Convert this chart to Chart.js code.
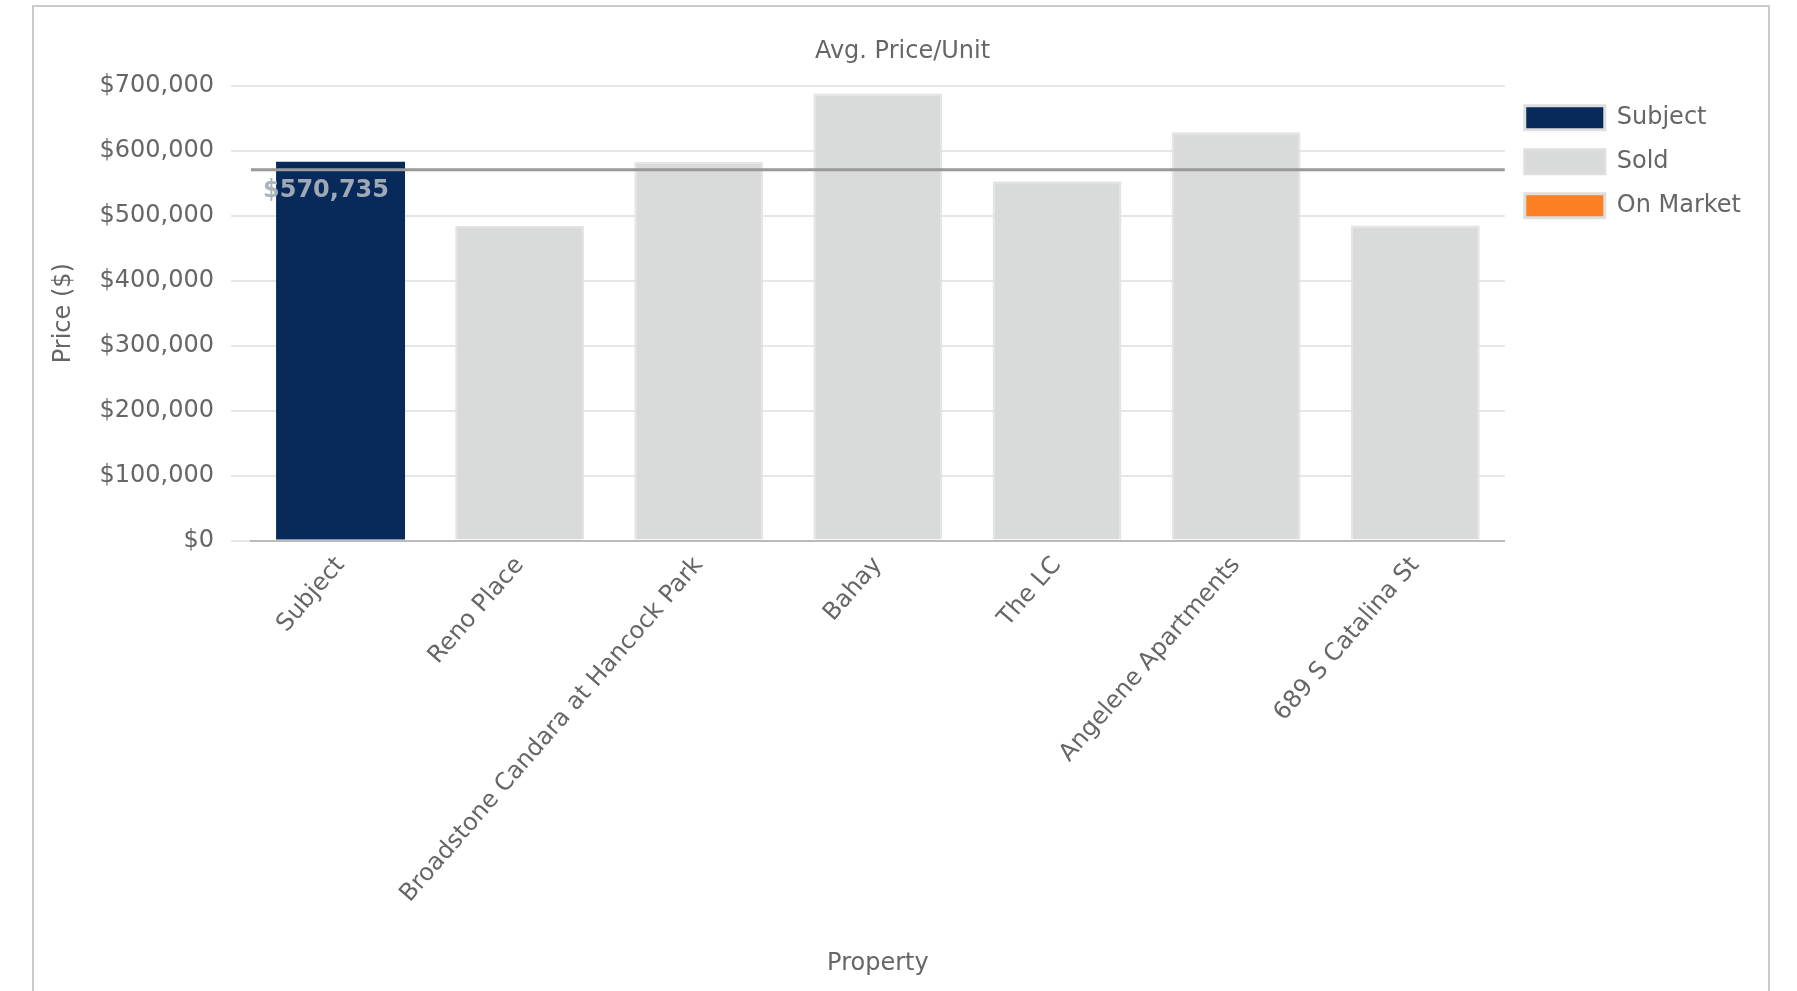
<!DOCTYPE html>
<html>
<head>
<meta charset="utf-8">
<script src="https://cdn.jsdelivr.net/npm/chart.js@4/dist/chart.umd.min.js"></script>
<style>
  html, body { margin: 0; padding: 0; background: #ffffff; overflow: hidden; }
  #frame { position: absolute; left: 32px; top: 5px; width: 1734px; height: 990px;
           border: 2px solid #cccccc; border-bottom: none; background: #fff; }
  canvas { display: block; }
</style>
</head>
<body>
<div id="frame"><canvas id="c" width="1734" height="984"></canvas></div>
<script>
// ---- data ----
const categories = ["Subject", "Reno Place", "Broadstone Candara at Hancock Park", "Bahay", "The LC", "Angelene Apartments", "689 S Catalina St"];
const pricePerUnit = [583000, 484000, 583000, 688000, 553000, 628500, 485000];
const statuses = ["Subject", "Sold", "Sold", "Sold", "Sold", "Sold", "Sold"];
const legendStatuses = ["Subject", "Sold", "On Market"];
const statusColors = ["#072a5a", "#d9dada", "#fd7f23"];
const averageValue = 570735;
const averageLabel = "$570,735";
const yTickValues = [0, 100000, 200000, 300000, 400000, 500000, 600000, 700000];

const FONT = "'DejaVu Sans', sans-serif";
const FS = 24;
const TEXT = "#666666";

const datasets = legendStatuses.map((st, i) => ({
  label: st,
  data: pricePerUnit.map((v, j) => statuses[j] === st ? v : null),
  backgroundColor: statusColors[i],
  borderColor: st === "Subject" ? statusColors[i] : "#e4e4e4",
  borderWidth: st === "Subject" ? 0 : 2,
  grouped: false
}));

const avgLinePlugin = {
  id: "avgLine",
  afterDatasetsDraw(chart) {
    const { ctx, chartArea, scales } = chart;
    const y = scales.y.getPixelForValue(averageValue);
    ctx.save();
    ctx.strokeStyle = "#999999";
    ctx.lineWidth = 3;
    ctx.beginPath();
    ctx.moveTo(chartArea.left, y);
    ctx.lineTo(chartArea.right, y);
    ctx.stroke();
    ctx.font = "bold " + FS + "px " + FONT;
    ctx.fillStyle = "rgba(168,176,186,0.95)";
    ctx.textAlign = "left";
    ctx.textBaseline = "middle";
    ctx.fillText(averageLabel, chartArea.left + 12, y + 21);
    ctx.restore();
  }
};

new Chart(document.getElementById("c"), {
  type: "bar",
  data: { labels: categories, datasets },
  plugins: [avgLinePlugin],
  options: {
    responsive: false,
    animation: false,
    layout: { padding: { left: 20, right: 17, top: 0, bottom: 9 } },
    plugins: {
      tooltip: { enabled: false },
      title: {
        display: true,
        text: "Avg. Price/Unit",
        color: TEXT,
        font: { family: FONT, size: FS, weight: "normal" },
        padding: { top: 30, bottom: 20 }
      },
      legend: {
        position: "right",
        align: "start",
        fullSize: false,
        labels: {
          color: TEXT,
          font: { family: FONT, size: FS },
          boxWidth: 80,
          boxHeight: 24,
          padding: 20,
          generateLabels(chart) {
            return legendStatuses.map((st, i) => ({
              text: st,
              fillStyle: statusColors[i],
              strokeStyle: "#dedede",
              lineWidth: 3,
              fontColor: TEXT,
              hidden: false,
              datasetIndex: i
            }));
          }
        }
      }
    },
    scales: {
      x: {
        grid: { display: false },
        border: { display: true, color: "#bbbbbb", width: 2 },
        ticks: {
          color: TEXT,
          font: { family: FONT, size: FS },
          minRotation: 49,
          maxRotation: 49,
          padding: 3,
          autoSkip: false
        },
        title: {
          display: true,
          text: "Property",
          color: TEXT,
          font: { family: FONT, size: FS },
          padding: { top: 4, bottom: 4 }
        },
        afterFit(scale) { scale.height = 984 - 533.5 - 9; }
      },
      y: {
        min: 0,
        max: 700000,
        grid: { color: "#e6e6e6", lineWidth: 2, tickLength: 20, drawTicks: true },
        border: { display: false },
        afterBuildTicks(scale) { scale.ticks = yTickValues.map(v => ({ value: v })); },
        ticks: {
          color: TEXT,
          font: { family: FONT, size: FS },
          padding: 17,
          callback: v => "$" + Number(v).toLocaleString("en-US")
        },
        title: {
          display: true,
          text: "Price ($)",
          color: TEXT,
          font: { family: FONT, size: FS },
          padding: { top: -5, bottom: 4 }
        },
        afterFit(scale) { scale.width = 217 - 20; }
      }
    }
  }
});
</script>
</body>
</html>
